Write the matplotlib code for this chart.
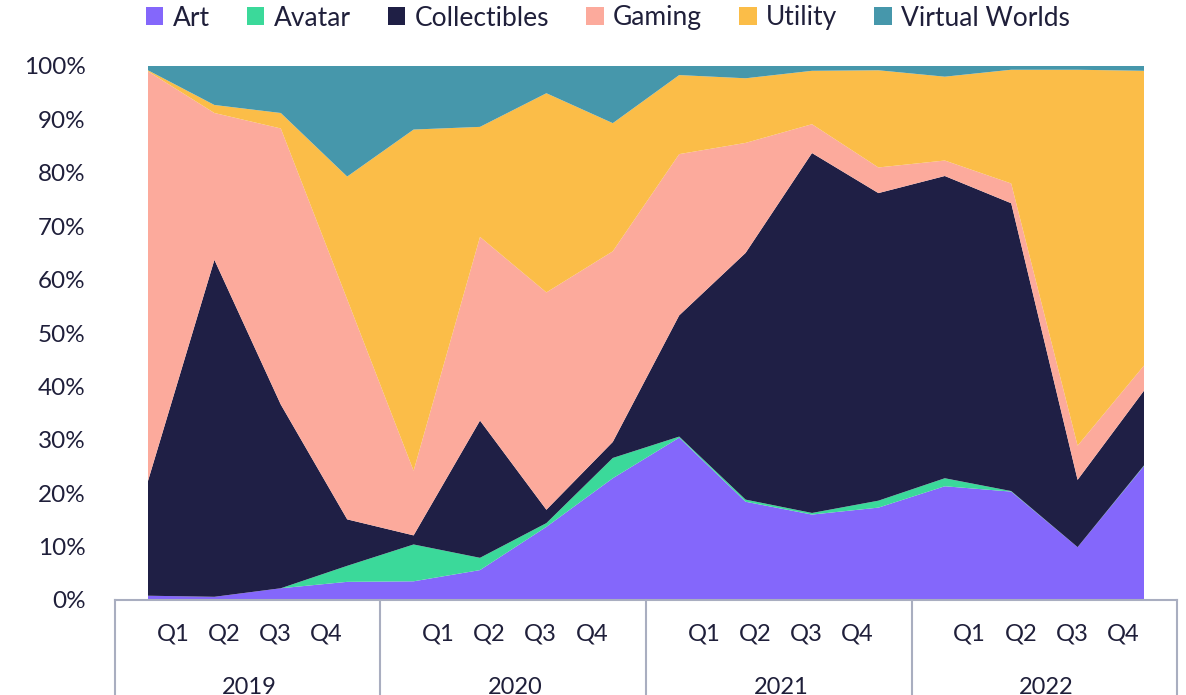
import matplotlib.pyplot as plt
import numpy as np

plt.rcParams['font.family'] = ['Lato', 'DejaVu Sans']

years = ['2019', '2020', '2021', '2022']
quarters = ['Q1', 'Q2', 'Q3', 'Q4']
categories = ['Art', 'Avatar', 'Collectibles', 'Gaming', 'Utility', 'Virtual Worlds']
colors = ['#8467fb', '#3bd99a', '#1f1f45', '#fcaa9c', '#fbbd48', '#4697ab']

# share of sales volume per quarter, in %
art = [0.8, 0.6, 2.2, 3.4, 3.5, 5.6, 13.7, 22.8, 30.4, 18.4, 16.0, 17.3, 21.3, 20.3, 9.9, 25.1]
avatar = [0.0, 0.0, 0.0, 3.0, 6.9, 2.3, 0.7, 3.8, 0.2, 0.4, 0.3, 1.3, 1.5, 0.1, 0.0, 0.1]
collectibles = [21.5, 63.1, 34.4, 8.7, 1.7, 25.7, 2.5, 3.0, 22.7, 46.2, 67.4, 57.6, 56.6, 53.9, 12.6, 14.0]
gaming = [76.7, 27.5, 51.7, 41.2, 12.1, 34.4, 40.7, 35.7, 30.2, 20.6, 5.4, 4.8, 2.9, 3.7, 6.4, 4.7]
utility = [0.2, 1.5, 2.9, 23.0, 63.9, 20.6, 37.3, 24.0, 14.8, 12.1, 10.0, 18.2, 15.7, 21.3, 70.4, 55.2]
virtual_worlds = [0.8, 7.3, 8.8, 20.7, 11.9, 11.4, 5.1, 10.7, 1.7, 2.3, 0.9, 0.8, 2.0, 0.7, 0.7, 0.9]

data = np.array([art, avatar, collectibles, gaming, utility, virtual_worlds])
data = data / data.sum(axis=0) * 100
x = np.arange(data.shape[1])

text_color = '#1f1f3a'
line_color = '#a9aec0'

fig = plt.figure(figsize=(11.86, 6.95), dpi=100)
ax = fig.add_axes([148 / 1186, 1 - 600 / 695, 996 / 1186, 534 / 695])

polys = ax.stackplot(x, data, colors=colors, labels=categories, linewidth=0)

ax.set_xlim(0, 15)
ax.set_ylim(0, 100)
ax.set_yticks(np.arange(0, 101, 10))
ax.set_yticklabels([f'{v}%' for v in range(0, 101, 10)])
ax.tick_params(axis='y', length=0, pad=45, labelsize=17.5, labelcolor=text_color)
ax.set_xticks([])
for s in ax.spines.values():
    s.set_visible(False)

# two-level category axis drawn by hand
trans = ax.get_xaxis_transform()
bottom = -100 / 534
for k in range(len(years) + 1):
    xb = -0.5 + 4 * k
    ax.plot([xb, xb], [0, bottom], color=line_color, lw=1.5, transform=trans, clip_on=False)
ax.plot([-0.5, 15.5], [0, 0], color=line_color, lw=1.5, transform=trans, clip_on=False)

for k, yr in enumerate(years):
    center = 1.5 + 4 * k
    for i, q in enumerate(quarters):
        ax.text(center + (i - 1.5) * 0.77 + 0.03, -34 / 534, q, transform=trans,
                ha='center', va='center', fontsize=17, color=text_color)
    ax.text(center + 0.03, -77 / 534, yr, transform=trans, ha='center', va='top',
            fontsize=17, color=text_color)

fig.legend(loc='center', bbox_to_anchor=(608 / 1186, 1 - 18 / 695), ncol=6, frameon=False,
           fontsize=19, handlelength=0.66, handleheight=0.66, handletextpad=0.36,
           columnspacing=1.4, labelcolor=text_color, borderpad=0)

fig.savefig('out.png', dpi=100)
